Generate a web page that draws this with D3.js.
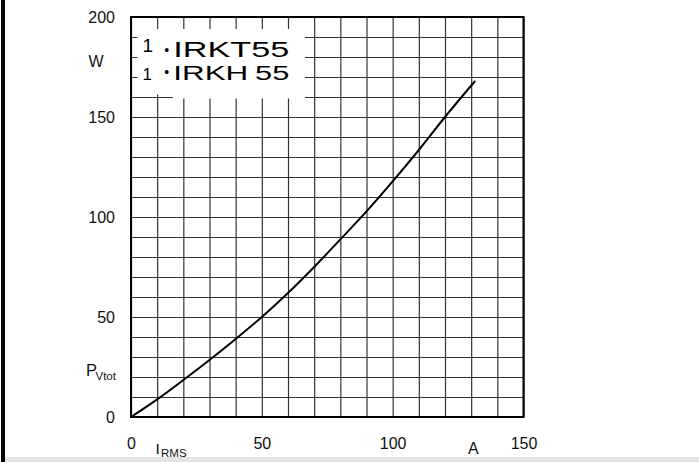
<!DOCTYPE html>
<html>
<head>
<meta charset="utf-8">
<script src="https://cdn.jsdelivr.net/npm/d3@7/dist/d3.min.js"></script>
<style>
  body { margin: 0; background: #fff; }
  svg { display: block; font-family: "Liberation Sans", Arial, sans-serif; }
</style>
</head>
<body>
<svg id="chart" width="699" height="462"></svg>
<script>
//Curve: RMS current (A) vs total power loss (W)
const currentA = [0, 10, 20, 30, 40, 50, 60, 70, 80, 90, 100, 110, 120, 131.5];
const powerW = [0, 8.8, 18.5, 28.5, 39, 50, 62, 75, 88.8, 102.8, 117.8, 133.5, 150, 168];

const xTicks = [0, 50, 100, 150];
const yTicks = [0, 50, 100, 150, 200];
const legendLines = ["IRKT55", "IRKH55"];

const svg = d3.select("#chart");

//Plot frame
const x = d3.scaleLinear().domain([0, 150]).range([131, 523.5]);
const y = d3.scaleLinear().domain([0, 200]).range([417, 17]);

//Page edges: black bar left, grey strip at the bottom
svg.append("rect").attr("x", 1).attr("y", 0).attr("width", 4).attr("height", 462).attr("fill", "#000");
svg.append("rect").attr("x", 5).attr("y", 457).attr("width", 694).attr("height", 5).attr("fill", "#e4e4e4");

//Grid, one line every 10 A and every 10 W
const gridX = svg.append("g")
    .attr("transform", "translate(0," + y(0) + ")")
    .call(d3.axisBottom(x).tickValues(d3.range(0, 151, 10)).tickSize(y(200) - y(0)).tickFormat(""));
const gridY = svg.append("g")
    .attr("transform", "translate(" + x(0) + ",0)")
    .call(d3.axisLeft(y).tickValues(d3.range(0, 201, 10)).tickSize(x(0) - x(150)).tickFormat(""));
[gridX, gridY].forEach(g => {
    g.select(".domain").remove();
    g.selectAll("line").attr("stroke", "#333").attr("stroke-width", 1.2);
});

//White patch behind the type label
svg.append("rect").attr("x", 137.5).attr("y", 29).attr("width", 167.5).attr("height", 65.5).attr("fill", "#fff");
svg.append("rect").attr("x", 172.7).attr("y", 94).attr("width", 132.3).attr("height", 4.5).attr("fill", "#fff");

//Border
svg.append("rect")
    .attr("x", x(0)).attr("y", y(200))
    .attr("width", x(150) - x(0)).attr("height", y(0) - y(200))
    .attr("fill", "none").attr("stroke", "#000").attr("stroke-width", 2);

//Tick labels
const yAxis = svg.append("g")
    .attr("transform", "translate(" + x(0) + ",0)")
    .call(d3.axisLeft(y).tickValues(yTicks).tickSize(0).tickPadding(16));
const xAxis = svg.append("g")
    .attr("transform", "translate(0," + y(0) + ")")
    .call(d3.axisBottom(x).tickValues(xTicks).tickSize(0).tickPadding(21));
[xAxis, yAxis].forEach(g => {
    g.select(".domain").remove();
    g.selectAll("text").attr("font-size", 16).attr("fill", "#111")
	.attr("font-family", "'Liberation Sans', Arial, sans-serif");
});

//Unit and quantity labels
svg.append("text").attr("x", 96).attr("y", 66.7).attr("text-anchor", "middle")
    .attr("font-size", 16).attr("fill", "#111").text("W");
svg.append("text").attr("x", 473.3).attr("y", 454.3).attr("text-anchor", "middle")
    .attr("font-size", 16).attr("fill", "#111").text("A");

let pv = svg.append("text").attr("fill", "#111");
pv.append("tspan").attr("x", 86).attr("y", 376).attr("font-size", 16.5).text("P");
pv.append("tspan").attr("x", 95.5).attr("y", 379.5).attr("font-size", 11.5).text("Vtot");

let irms = svg.append("text").attr("fill", "#111");
irms.append("tspan").attr("x", 155.5).attr("y", 454.3).attr("font-size", 15.5).text("I");
irms.append("tspan").attr("x", 161).attr("y", 456.7).attr("font-size", 11.5).text("RMS");

//Type label (stretched lettering)
const lg = svg.append("g").attr("fill", "#000");
lg.append("text").attr("x", 142.5).attr("y", 51.7).attr("font-size", 19).text("1");
lg.append("text").attr("x", 166.7).attr("y", 54.5).attr("font-size", 14).attr("text-anchor", "middle").text("\u2022");
lg.append("text").attr("x", 173.3).attr("y", 57.3).attr("font-size", 22.5)
    .attr("textLength", 116).attr("lengthAdjust", "spacingAndGlyphs").text(legendLines[0]);

lg.append("text").attr("x", 142.5).attr("y", 80).attr("font-size", 17).text("1");
lg.append("text").attr("x", 166.7).attr("y", 77).attr("font-size", 14).attr("text-anchor", "middle").text("\u2022");
lg.append("text").attr("x", 173.3).attr("y", 80.3).attr("font-size", 20.5)
    .attr("textLength", 75).attr("lengthAdjust", "spacingAndGlyphs").text(legendLines[1].slice(0, 4));
lg.append("text").attr("x", 255).attr("y", 80.3).attr("font-size", 20.5)
    .attr("textLength", 34.3).attr("lengthAdjust", "spacingAndGlyphs").text(legendLines[1].slice(4));

//Loss curve
const line = d3.line()
    .x((d, i) => x(currentA[i]))
    .y(d => y(d))
    .curve(d3.curveCatmullRom);

svg.append("path")
    .datum(powerW)
    .attr("d", line)
    .attr("fill", "none")
    .attr("stroke", "#000")
    .attr("stroke-width", 2);
</script>
</body>
</html>
